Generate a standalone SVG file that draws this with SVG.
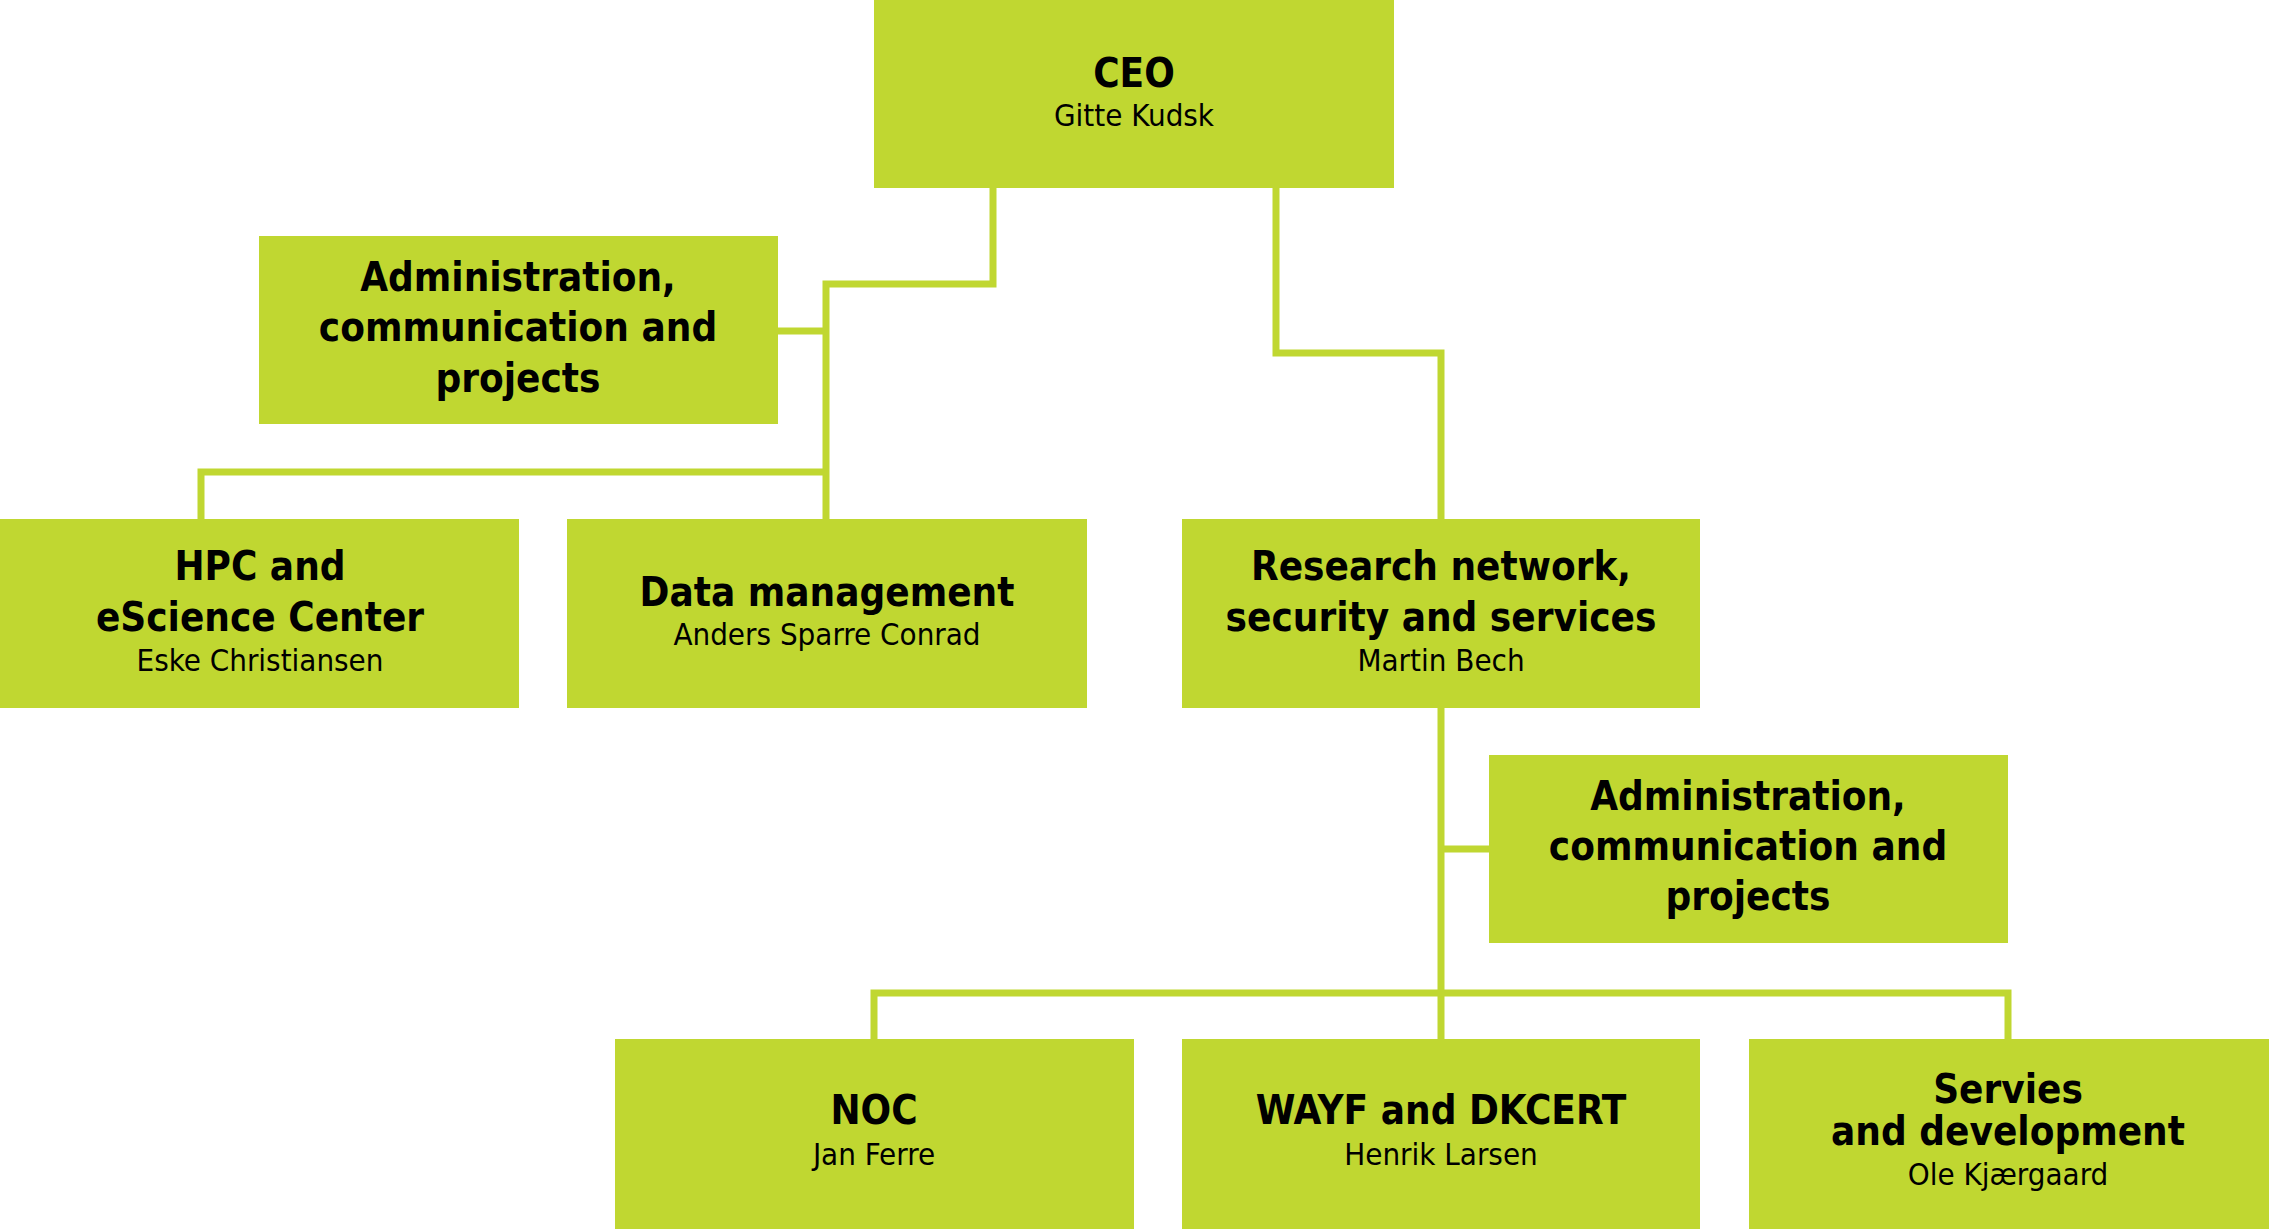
<svg xmlns="http://www.w3.org/2000/svg" width="2269" height="1229" viewBox="0 0 2269 1229">
<style>
.b{fill:#c0d731}
.c{fill:none;stroke:#c0d731;stroke-width:7}
text{font-family:"DejaVu Sans Condensed","DejaVu Sans",sans-serif;font-stretch:condensed;text-anchor:middle;fill:#000}
.t{font-size:40px;font-weight:bold}
.n{font-size:31px}
</style>
<rect width="2269" height="1229" fill="#fff"/>
<g id="connectors">
<polyline class="c" points="993,188 993,284 826,284 826,519"/>
<line class="c" x1="778" y1="331" x2="826" y2="331"/>
<polyline class="c" points="201,519 201,472 826,472"/>
<polyline class="c" points="1276,188 1276,353 1441,353 1441,519"/>
<line class="c" x1="1441" y1="708" x2="1441" y2="1039"/>
<line class="c" x1="1441" y1="849" x2="1489" y2="849"/>
<polyline class="c" points="874,1039 874,993 2008,993 2008,1039"/>
</g>
<g id="ceo"><rect class="b" x="874" y="0" width="520" height="188"/><text class="t" x="1134" y="87">CEO</text><text class="n" x="1134" y="126">Gitte Kudsk</text></g>
<g id="admin1"><rect class="b" x="259" y="236" width="519" height="188"/><text class="t" x="518" y="291">Administration,</text><text class="t" x="518" y="341">communication and</text><text class="t" x="518" y="392">projects</text></g>
<g id="hpc"><rect class="b" x="0" y="519" width="519" height="189"/><text class="t" x="260" y="580">HPC and</text><text class="t" x="260" y="631">eScience Center</text><text class="n" x="260" y="671">Eske Christiansen</text></g>
<g id="data"><rect class="b" x="567" y="519" width="520" height="189"/><text class="t" x="827" y="606">Data management</text><text class="n" x="827" y="645">Anders Sparre Conrad</text></g>
<g id="research"><rect class="b" x="1182" y="519" width="518" height="189"/><text class="t" x="1441" y="580">Research network,</text><text class="t" x="1441" y="631">security and services</text><text class="n" x="1441" y="671">Martin Bech</text></g>
<g id="admin2"><rect class="b" x="1489" y="755" width="519" height="188"/><text class="t" x="1748" y="810">Administration,</text><text class="t" x="1748" y="860">communication and</text><text class="t" x="1748" y="910">projects</text></g>
<g id="noc"><rect class="b" x="615" y="1039" width="519" height="190"/><text class="t" x="874" y="1124">NOC</text><text class="n" x="874" y="1165">Jan Ferre</text></g>
<g id="wayf"><rect class="b" x="1182" y="1039" width="518" height="190"/><text class="t" x="1441" y="1124">WAYF and DKCERT</text><text class="n" x="1441" y="1165">Henrik Larsen</text></g>
<g id="servies"><rect class="b" x="1749" y="1039" width="520" height="190"/><text class="t" x="2008" y="1103">Servies</text><text class="t" x="2008" y="1145">and development</text><text class="n" x="2008" y="1185">Ole Kjærgaard</text></g>
</svg>
